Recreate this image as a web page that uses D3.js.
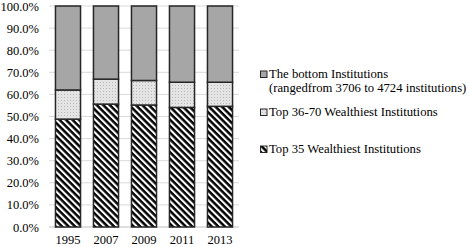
<!DOCTYPE html>
<html>
<head>
<meta charset="utf-8">
<script src="https://cdn.jsdelivr.net/npm/d3@7"></script>
<style>
body { margin: 0; background: #fff; }
</style>
</head>
<body>
<div id="vis"></div>
<script>
var years = ["1995", "2007", "2009", "2011", "2013"];
var top35 = [48.8, 55.6, 55.2, 54.1, 54.6];
var top36to70 = [13.2, 11.3, 11.1, 11.4, 10.9];
var bottom = [38.0, 33.1, 33.7, 34.5, 34.5];
var yTicks = [0, 10, 20, 30, 40, 50, 60, 70, 80, 90, 100];

var font = "'Liberation Serif', 'Times New Roman', serif";
var w = 470, h = 247;
var svg = d3.select("#vis").append("svg")
	.attr("width", w)
	.attr("height", h);

var defs = svg.append("defs");

// diagonal hatch for top 35
var hatch = defs.append("pattern")
	.attr("id", "hatch")
	.attr("patternUnits", "userSpaceOnUse")
	.attr("width", 4.6)
	.attr("height", 4.6)
	.attr("patternTransform", "rotate(45)");
hatch.append("rect").attr("width", 4.6).attr("height", 4.6).attr("fill", "#fff");
hatch.append("rect").attr("width", 4.6).attr("height", 2.5).attr("fill", "#000");

// dotted pattern for 36-70
var dots = defs.append("pattern")
	.attr("id", "dots")
	.attr("patternUnits", "userSpaceOnUse")
	.attr("width", 3)
	.attr("height", 3);
dots.append("rect").attr("width", 3).attr("height", 3).attr("fill", "#e4e4e4");
dots.append("rect").attr("x", 1).attr("y", 1).attr("width", 1).attr("height", 1).attr("fill", "#b8b8b8");

var x = d3.scaleBand()
	.domain(years)
	.range([49, 239])
	.paddingInner(0.34)
	.paddingOuter(0.17);

var y = d3.scaleLinear()
	.domain([0, 100])
	.range([227, 6]);

// gridlines
svg.selectAll("line.grid")
	.data(yTicks)
	.enter()
	.append("line")
	.attr("class", "grid")
	.attr("x1", 49)
	.attr("x2", 239)
	.attr("y1", function(d) { return y(d); })
	.attr("y2", function(d) { return y(d); })
	.attr("stroke", function(d) { return d === 0 ? "#bfbfbf" : "#d9d9d9"; })
	.attr("stroke-width", 1);

var yAxis = svg.append("g")
	.attr("transform", "translate(49,0)")
	.call(d3.axisLeft(y).tickValues(yTicks).tickSize(0).tickPadding(10)
		.tickFormat(function(d) { return d.toFixed(1) + "%"; }));
yAxis.select(".domain").remove();
yAxis.attr("font-family", null).attr("font-size", null);
yAxis.selectAll("text").style("font-size", "12.5px").style("font-family", font).attr("fill", "#000");

var xAxis = svg.append("g")
	.attr("transform", "translate(0,227)")
	.call(d3.axisBottom(x).tickSize(0).tickPadding(8));
xAxis.select(".domain").remove();
xAxis.attr("font-family", null).attr("font-size", null);
xAxis.selectAll("text").style("font-size", "12.5px").style("font-family", font).attr("fill", "#000");

var table = years.map(function(yr, i) {
	return { year: yr, top35: top35[i], top36to70: top36to70[i], bottom: bottom[i] };
});
var keys = ["top35", "top36to70", "bottom"];
var fills = { top35: "url(#hatch)", top36to70: "url(#dots)", bottom: "#a6a6a6" };
var stacked = d3.stack().keys(keys)(table);

svg.selectAll("g.layer")
	.data(stacked)
	.enter()
	.append("g")
	.attr("class", "layer")
	.attr("fill", function(d) { return fills[d.key]; })
	.selectAll("rect")
	.data(function(d) { return d; })
	.enter()
	.append("rect")
	.attr("x", function(d) { return x(d.data.year); })
	.attr("y", function(d) { return y(d[1]); })
	.attr("width", x.bandwidth())
	.attr("height", function(d) { return y(d[0]) - y(d[1]); })
	.attr("stroke", "#262626")
	.attr("stroke-width", 1.5);

// legend
var legend = [
	{ key: "bottom", lines: ["The bottom Institutions", "(rangedfrom 3706 to 4724 institutions)"], y: 74 },
	{ key: "top36to70", lines: ["Top 36-70 Wealthiest Institutions"], y: 112 },
	{ key: "top35", lines: ["Top 35 Wealthiest Institutions"], y: 149 }
];
var lg = svg.selectAll("g.legend")
	.data(legend)
	.enter()
	.append("g")
	.attr("class", "legend");
lg.append("rect")
	.attr("x", 260.5)
	.attr("y", function(d) { return d.y - 3; })
	.attr("width", 6.5)
	.attr("height", 6.5)
	.attr("fill", function(d) { return fills[d.key]; })
	.attr("stroke", "#262626")
	.attr("stroke-width", 1);
lg.each(function(d) {
	var g = d3.select(this);
	d.lines.forEach(function(t, i) {
		g.append("text")
			.attr("x", 269)
			.attr("y", d.y + i * 14)
			.attr("dy", "0.35em")
			.style("font-size", "12.7px")
			.style("font-family", font)
			.text(t);
	});
});
</script>
</body>
</html>
